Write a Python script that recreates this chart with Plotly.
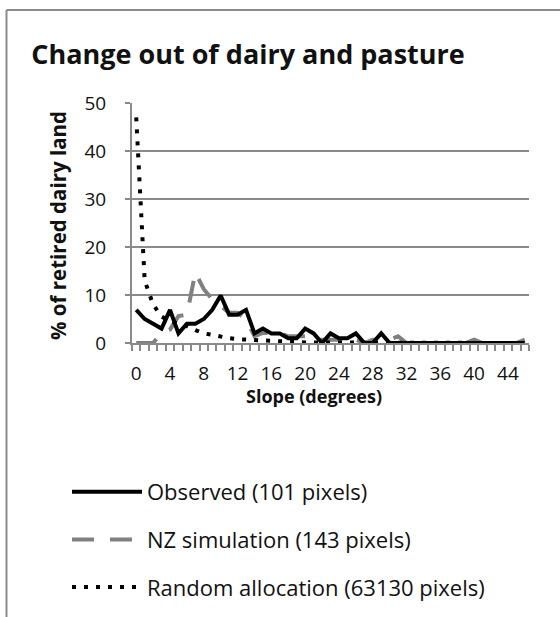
import plotly.graph_objects as go

# ---- data ----
slope = list(range(47))
x_tick_vals = list(range(0, 45, 4))
y_tick_vals = [0, 10, 20, 30, 40, 50]

observed = [6.9, 5.0, 4.0, 3.0, 6.9, 2.0, 4.0, 4.0, 5.0, 6.9,
            9.9, 5.9, 5.9, 6.9, 2.0, 3.0, 2.0, 2.0, 1.0, 1.0,
            3.0, 2.0, 0.0, 2.0, 1.0, 1.0, 2.0, 0.0, 0.0, 2.0,
            0, 0, 0, 0, 0, 0, 0, 0, 0, 0,
            0, 0, 0, 0, 0, 0, 0]

nz_sim = [0.0, 0.0, 0.0, 2.1, 2.8, 5.6, 5.9, 14.7, 11.2, 9.1,
          7.7, 6.3, 6.3, 4.9, 1.4, 2.1, 2.1, 2.1, 1.4, 1.4,
          1.4, 0.7, 0.7, 0.7, 0.7, 0.0, 0.7, 0.0, 0.7, 0.7,
          0.7, 1.4, 0, 0, 0, 0, 0, 0, 0, 0,
          0.7, 0, 0, 0, 0, 0, 0.7]

random_alloc = [47.0, 13.0, 8.0, 5.5, 4.5, 4.0, 3.5, 2.7, 2.0, 1.7,
                1.3, 1.0, 0.8, 0.7, 0.6, 0.4, 0.3, 0.2, 0.1, 0.1,
                0.1, 0.1, 0.1, 0, 0, 0, 0, 0, 0, 0,
                0, 0, 0, 0, 0, 0, 0, 0, 0, 0,
                0, 0, 0, 0, 0, 0, 0]

names = ["Observed (101 pixels)", "NZ simulation (143 pixels)",
         "Random allocation (63130 pixels)"]

FONT = "Open Sans"
GRID = "#8a8a8a"
TXT = "#111111"

fig = go.Figure()
fig.add_trace(go.Scatter(x=slope, y=nz_sim, mode="lines", name=names[1],
                         legendrank=2, legendgroup="b",
                         line=dict(color="#808080", width=4, dash="22px,16px")))
fig.add_trace(go.Scatter(x=slope, y=observed, mode="lines", name=names[0],
                         legendrank=1, legendgroup="a",
                         line=dict(color="#000000", width=4)))
fig.add_trace(go.Scatter(x=slope, y=random_alloc, mode="lines", name=names[2],
                         legendrank=3, legendgroup="c",
                         line=dict(color="#000000", width=4, dash="4px,8px")))

fig.update_layout(
    width=560, height=617,
    margin=dict(l=132, r=31, t=103, b=274, autoexpand=False),
    paper_bgcolor="white", plot_bgcolor="white",
    font=dict(family=FONT, size=19, color=TXT),
    hovermode=False,
    title=dict(text="<b>Change out of dairy and pasture</b>",
               font=dict(family=FONT, size=27, color=TXT),
               x=248 / 560, xanchor="center", xref="container",
               y=1 - 55 / 617, yanchor="middle", yref="container"),
    showlegend=True,
    legend=dict(orientation="v", x=(67 - 132) / 397, xanchor="left",
                y=(343 - 471) / 240, yanchor="top",
                font=dict(family=FONT, size=22, color=TXT),
                itemwidth=70, tracegroupgap=16, traceorder="grouped",
                bgcolor="rgba(0,0,0,0)"),
    xaxis=dict(range=[-0.5, 46.5], tickmode="array", tickvals=x_tick_vals,
               ticks="", showgrid=False, zeroline=False,
               showline=True, linecolor=GRID, linewidth=2,
               ticklabelstandoff=12,
               tickfont=dict(family=FONT, size=19, color=TXT),
               minor=dict(tickmode="linear", tick0=-0.5, dtick=1, ticks="outside",
                          ticklen=6, tickcolor=GRID, tickwidth=1.5, showgrid=False)),
    yaxis=dict(range=[0, 50], tickmode="array", tickvals=y_tick_vals,
               ticks="outside", ticklen=5, tickcolor=GRID, tickwidth=1.5,
               showgrid=True, gridcolor=GRID, gridwidth=1.5, zeroline=False,
               showline=True, linecolor=GRID, linewidth=2,
               ticklabelstandoff=15,
               tickfont=dict(family=FONT, size=19, color=TXT)),
    annotations=[
        dict(text="<b>Slope (degrees)</b>", xref="paper", yref="paper",
             x=(314 - 132) / 397, y=(343 - 396) / 240, xanchor="center",
             yanchor="middle", showarrow=False,
             font=dict(family=FONT, size=18, color=TXT)),
        dict(text="<b>% of retired dairy land</b>", xref="paper", yref="paper",
             x=(58 - 132) / 397, y=(343 - 226) / 240, xanchor="center",
             yanchor="middle", textangle=-90, showarrow=False,
             font=dict(family=FONT, size=20.5, color=TXT)),
    ],
    shapes=[
        dict(type="line", xref="paper", yref="paper",
             x0=(6.5 - 132) / 397, x1=(562 - 132) / 397,
             y0=(343 - 10) / 240, y1=(343 - 10) / 240,
             line=dict(color="#8c8c8c", width=2)),
        dict(type="line", xref="paper", yref="paper",
             x0=(6.5 - 132) / 397, x1=(6.5 - 132) / 397,
             y0=(343 - 10) / 240, y1=(343 - 620) / 240,
             line=dict(color="#8c8c8c", width=2)),
    ],
)

fig.write_html("out.html",
               config={"displayModeBar": False},
               post_script="document.body.style.margin='0';"
                           "document.body.style.overflow='hidden';")
